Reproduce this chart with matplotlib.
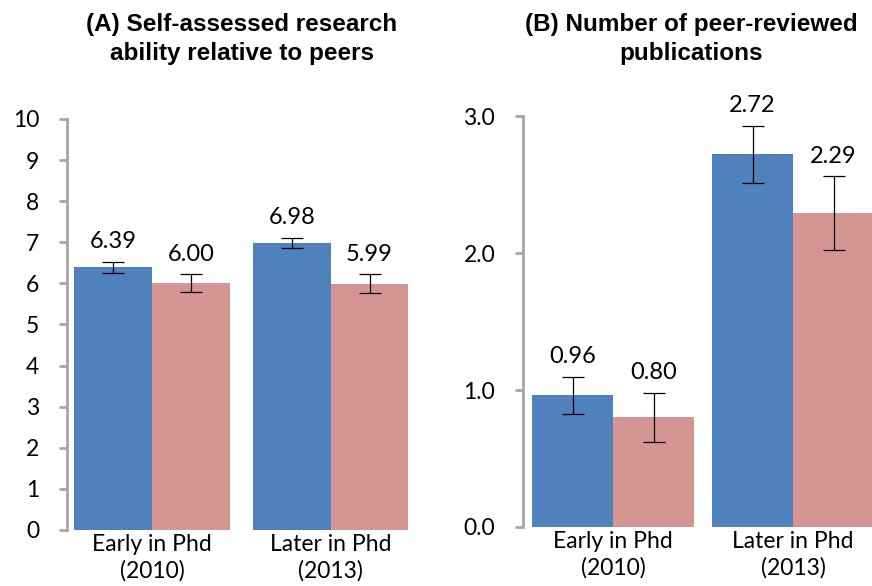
import matplotlib.pyplot as plt
import numpy as np

# data
groups = ['Early in Phd\n(2010)', 'Later in Phd\n(2013)']

ability_blue = [6.39, 6.98]
ability_pink = [6.00, 5.99]
ability_blue_err = [0.13, 0.12]
ability_pink_err = [0.22, 0.23]

pubs_blue = [0.96, 2.72]
pubs_pink = [0.80, 2.29]
pubs_blue_err = [0.135, 0.21]
pubs_pink_err = [0.18, 0.27]

titles = ['(A) Self-assessed research\nability relative to peers',
          '(B) Number of peer-reviewed\npublications']

BLUE = '#4F81BD'
PINK = '#D49593'
GREY = '#A6A6A6'
TICK_FONT = ['Lato', 'DejaVu Sans']
TITLE_FONT = ['Liberation Sans', 'DejaVu Sans']


def draw_panel(ax, blue, pink, blue_err, pink_err, width, ylim, yticks, fmt):
    x = np.arange(len(groups))
    ax.bar(x - width / 2, blue, width, color=BLUE, zorder=2)
    ax.bar(x + width / 2, pink, width, color=PINK, zorder=2)
    ax.errorbar(x - width / 2, blue, yerr=blue_err, fmt='none', ecolor='black',
                elinewidth=0.9, capsize=8, capthick=0.9, zorder=3)
    ax.errorbar(x + width / 2, pink, yerr=pink_err, fmt='none', ecolor='black',
                elinewidth=0.9, capsize=8, capthick=0.9, zorder=3)
    for xs, vals, errs in [(x - width / 2, blue, blue_err), (x + width / 2, pink, pink_err)]:
        for xi, v, e in zip(xs, vals, errs):
            ax.annotate(f'{v:.2f}', (xi, v + e), xytext=(0, 7), textcoords='offset points',
                        ha='center', va='bottom', fontsize=17, family=TICK_FONT)

    ax.set_ylim(*ylim)
    ax.set_yticks(yticks)
    ax.set_yticklabels([fmt.format(t) for t in yticks], family=TICK_FONT, fontsize=16.5)
    ax.set_xticks(x)
    ax.set_xticklabels(groups, family=TICK_FONT, fontsize=16.5, linespacing=1.3)
    ax.tick_params(axis='x', length=0, pad=3)
    ax.tick_params(axis='y', length=6, width=2, color=GREY, pad=14)
    for s in ['top', 'right', 'bottom']:
        ax.spines[s].set_visible(False)
    ax.spines['left'].set_color(GREY)
    ax.spines['left'].set_linewidth(2)


def main():
    fig = plt.figure(figsize=(8.72, 5.86), dpi=100)

    ax1 = fig.add_axes([67 / 872, 0.0956, (420 - 67) / 872, 0.797 - 0.0956])
    draw_panel(ax1, ability_blue, ability_pink, ability_blue_err, ability_pink_err,
               0.435, (0, 10), list(range(0, 11)), '{:d}')
    ax1.set_xlim(-0.475, 1.5)

    ax2 = fig.add_axes([523 / 872, 0.1007, (883 - 523) / 872, 0.802 - 0.1007])
    draw_panel(ax2, pubs_blue, pubs_pink, pubs_blue_err, pubs_pink_err,
               0.45, (0, 3.0), [0.0, 1.0, 2.0, 3.0], '{:.1f}')
    ax2.set_xlim(-0.5, 1.5)

    fig.text(242 / 872, 1 - 39 / 586, titles[0], ha='center', va='center',
             fontsize=17.5, fontweight='bold', family=TITLE_FONT, linespacing=1.3)
    fig.text(691 / 872, 1 - 39 / 586, titles[1], ha='center', va='center',
             fontsize=17.5, fontweight='bold', family=TITLE_FONT, linespacing=1.3)

    fig.savefig('out.png', dpi=100)


if __name__ == '__main__':
    main()
